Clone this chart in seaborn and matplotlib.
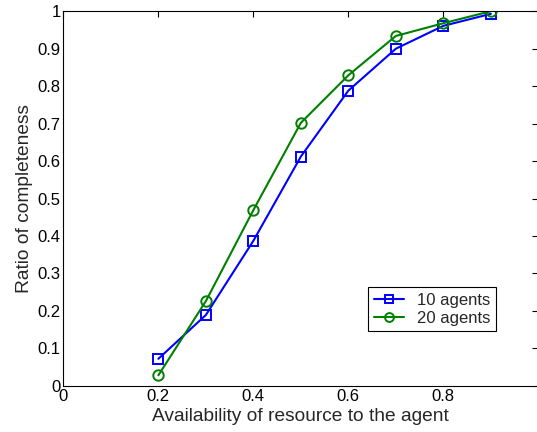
import matplotlib
matplotlib.use("Agg")
import matplotlib.pyplot as plt
import seaborn as sns
import pandas as pd

availability = [0.2, 0.3, 0.4, 0.5, 0.6, 0.7, 0.8, 0.9]
agents10 = [0.072, 0.189, 0.387, 0.612, 0.788, 0.900, 0.961, 0.993]
agents20 = [0.028, 0.226, 0.469, 0.702, 0.829, 0.934, 0.968, 1.000]
series_names = ["10 agents", "20 agents"]
colors = ["#0000FF", "#008000"]
markers = ["s", "o"]
x_tick_labels = ["0", "0.2", "0.4", "0.6", "0.8", ""]
y_tick_labels = ["0", "0.1", "0.2", "0.3", "0.4", "0.5", "0.6", "0.7", "0.8", "0.9", "1"]

sns.set_theme(style="white")
plt.rcParams["font.family"] = ["Liberation Sans", "DejaVu Sans"]

fig = plt.figure(figsize=(5.37, 4.32), dpi=100)
ax = fig.add_axes([0.118, 0.107, 0.8845, 0.867])

for name, vals, c, m, ms in zip(series_names, [agents10, agents20], colors, markers, [7, 7.5]):
    df = pd.DataFrame({"x": availability, "y": vals})
    sns.lineplot(data=df, x="x", y="y", ax=ax, color=c, marker=m, markersize=ms,
                 markerfacecolor="none", markeredgecolor=c, markeredgewidth=1.4,
                 linewidth=1.5, label=name)

ax.set_xlim(0, 1)
ax.set_ylim(0, 1)
ax.set_xticks([0, 0.2, 0.4, 0.6, 0.8, 1.0])
ax.set_xticklabels(x_tick_labels)
ax.set_yticks([i / 10 for i in range(11)])
ax.set_yticklabels(y_tick_labels)
ax.tick_params(direction="in", length=4, width=0.8, top=True, right=True,
               labelsize=12, colors="black", pad=2)
for s in ax.spines.values():
    s.set_visible(True)
    s.set_color("black")
    s.set_linewidth(0.8)
ax.set_xlabel("Availability of resource to the agent", fontsize=13.8, labelpad=3)
ax.set_ylabel("Ratio of completeness", fontsize=13.8, labelpad=3)

leg = ax.legend(loc="upper left", bbox_to_anchor=(0.641, 0.263), fontsize=12,
                frameon=True, fancybox=False, edgecolor="black", framealpha=1,
                handlelength=1.8, borderpad=0.35, labelspacing=0.15, handletextpad=0.8,
                markerscale=0.85, borderaxespad=0)
leg.get_frame().set_linewidth(0.8)

fig.savefig("out.png", dpi=100)
